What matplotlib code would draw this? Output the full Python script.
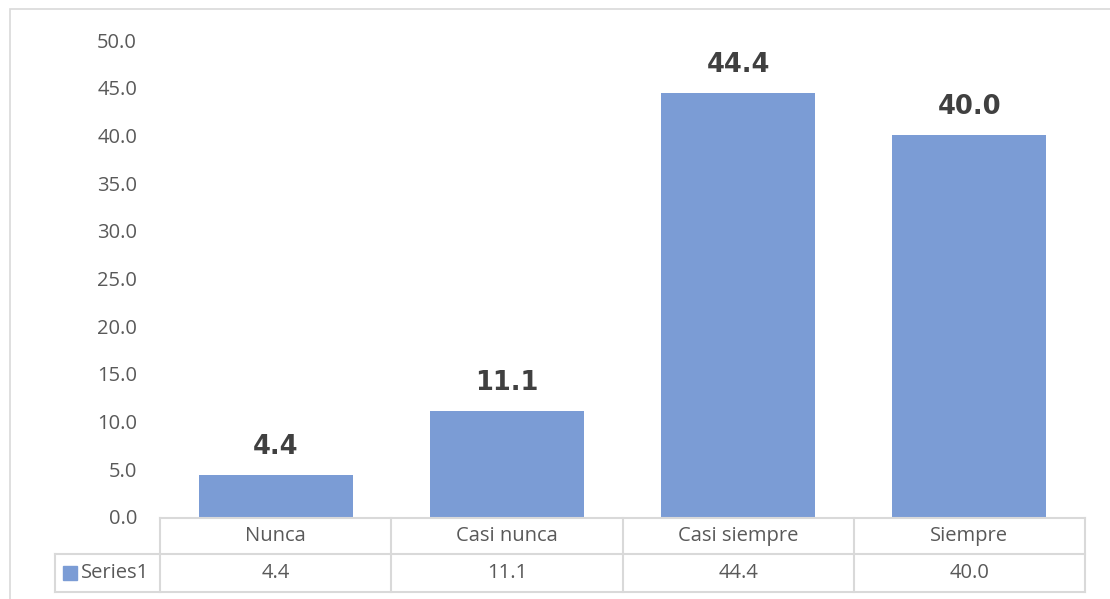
import matplotlib.pyplot as plt
from matplotlib.transforms import blended_transform_factory
from matplotlib.patches import Rectangle

categorias = ['Nunca', 'Casi nunca', 'Casi siempre', 'Siempre']
valores = [4.4, 11.1, 44.4, 40.0]
serie = 'Series1'
ticks_y = [0, 5, 10, 15, 20, 25, 30, 35, 40, 45, 50]

W, H = 1110, 599
color_barra = '#7B9CD5'
gris_txt = '#595959'
gris_linea = '#D9D9D9'
fs = 14.5

fig = plt.figure(figsize=(W / 100, H / 100), dpi=100)


def fx(px):
    return px / W


def fy(py):
    return 1 - py / H


# borde del grafico
fig.patches.append(Rectangle((fx(10), fy(640)), fx(1200), fy(9) - fy(640),
                             transform=fig.transFigure, fill=False,
                             edgecolor=gris_linea, lw=1.2))

ax = fig.add_axes([fx(160), fy(517), fx(1085) - fx(160), fy(40) - fy(517)])
x = list(range(len(categorias)))
ax.bar(x, valores, width=0.667, color=color_barra, zorder=2)
ax.set_xlim(-0.5, len(categorias) - 0.5)
ax.set_ylim(0, 50)
ax.set_yticks(ticks_y)
ax.set_yticklabels(['%.1f' % t for t in ticks_y], fontsize=fs, color=gris_txt,
                   family='Open Sans')
ax.tick_params(axis='y', length=0, pad=16.5)
ax.set_xticks([])
for s in ax.spines.values():
    s.set_visible(False)

for xi, v in zip(x, valores):
    ax.annotate('%.1f' % v, (xi, v), xytext=(0, 11), textcoords='offset points',
                ha='center', va='bottom', fontsize=18.5, fontweight='heavy',
                color='#404040')

# tabla de datos
tr = blended_transform_factory(ax.transData, fig.transFigure)
y_top, y_mid, y_bot = fy(518), fy(554), fy(592)
x_ini = -0.5 - (160 - 55) / ((1085 - 160) / len(categorias))
lw = 1.5
ax.plot([-0.5, 3.5], [y_top, y_top], transform=tr, color=gris_linea, lw=lw, clip_on=False)
ax.plot([x_ini, 3.5], [y_mid, y_mid], transform=tr, color=gris_linea, lw=lw, clip_on=False)
ax.plot([x_ini, 3.5], [y_bot, y_bot], transform=tr, color=gris_linea, lw=lw, clip_on=False)
ax.plot([x_ini, x_ini], [y_mid, y_bot], transform=tr, color=gris_linea, lw=lw, clip_on=False)
for b in range(len(categorias) + 1):
    ax.plot([b - 0.5, b - 0.5], [y_top, y_bot], transform=tr, color=gris_linea, lw=lw,
            clip_on=False)

for xi, c, v in zip(x, categorias, valores):
    ax.text(xi, (y_top + y_mid) / 2, c, transform=tr, ha='center', va='center',
            fontsize=fs, color=gris_txt, family='Open Sans')
    ax.text(xi, (y_mid + y_bot) / 2, '%.1f' % v, transform=tr, ha='center', va='center',
            fontsize=fs, color=gris_txt, family='Open Sans')

# leyenda en la tabla
fig.patches.append(Rectangle((fx(63), fy(580)), fx(14), fy(566) - fy(580),
                             transform=fig.transFigure, color=color_barra))
fig.text(fx(81), (y_mid + y_bot) / 2, serie, ha='left', va='center',
         fontsize=fs, color=gris_txt, family='Open Sans')

fig.savefig('out.png', dpi=100)
